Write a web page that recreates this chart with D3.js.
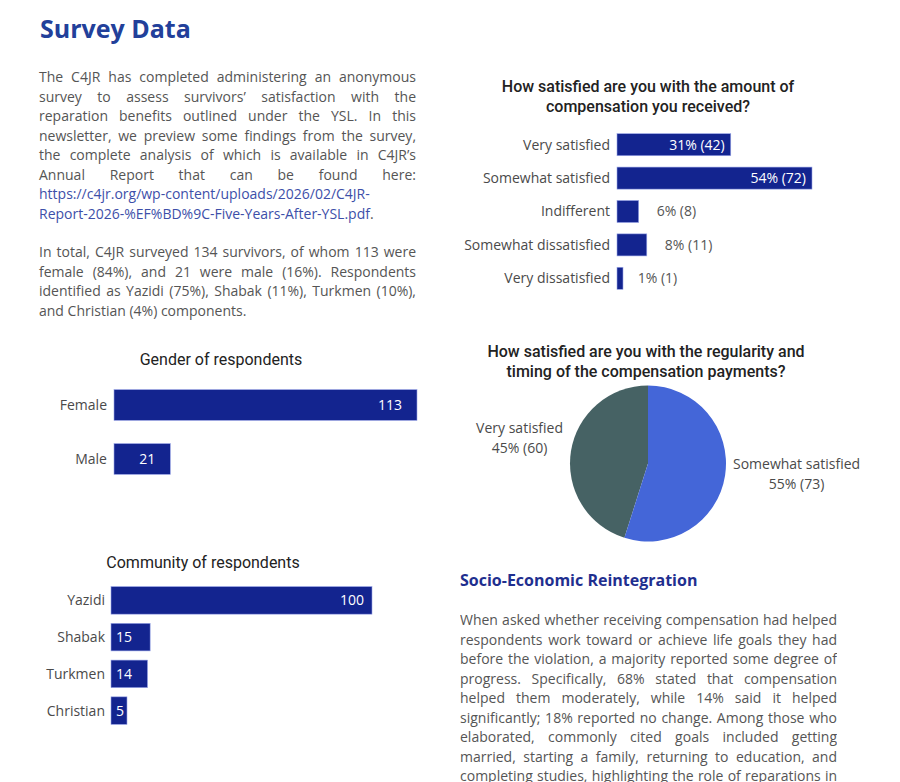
<!DOCTYPE html>
<html>
<head>
<meta charset="utf-8">
<script src="https://cdn.jsdelivr.net/npm/d3@7"></script>
<style>
  body { margin: 0; background: #fff; }
  #page { position: relative; width: 900px; height: 782px; overflow: hidden; background: #fff; }
  #page svg { position: absolute; left: 0; top: 0; }
  .para {
    position: absolute;
    width: 377px;
    font-family: "Open Sans", sans-serif;
    font-size: 14px;
    line-height: 19.5px;
    color: #555;
    text-align: justify;
    margin: 0;
  }
  .para a { color: #3d4fa9; text-decoration: none; }
</style>
</head>
<body>
<div id="page">
  <p class="para" style="left:39px; top:67px;">The C4JR has completed administering an anonymous survey to assess survivors’ satisfaction with the reparation benefits outlined under the YSL. In this newsletter, we preview some findings from the survey, the complete analysis of which is available in C4JR’s Annual Report that can be found here: <a href="#">https://c4jr.org/wp-content/uploads/2026/02/C4JR-<br>Report-2026-%EF%BD%9C-Five-Years-After-YSL.pdf</a>.</p>
  <p class="para" style="left:39px; top:242px;">In total, C4JR surveyed 134 survivors, of whom 113 were female (84%), and 21 were male (16%). Respondents identified as Yazidi (75%), Shabak (11%), Turkmen (10%), and Christian (4%) components.</p>
  <p class="para" style="left:460px; top:610px; height:172px; overflow:hidden; text-align-last: justify;">When asked whether receiving compensation had helped respondents work toward or achieve life goals they had before the violation, a majority reported some degree of progress. Specifically, 68% stated that compensation helped them moderately, while 14% said it helped significantly; 18% reported no change. Among those who elaborated, commonly cited goals included getting married, starting a family, returning to education, and completing studies, highlighting the role of reparations in</p>
</div>
<script>
// chart data
const genderLabels = ['Female', 'Male'];
const genderValues = [113, 21];

const communityLabels = ['Yazidi', 'Shabak', 'Turkmen', 'Christian'];
const communityValues = [100, 15, 14, 5];

const amountLabels = ['Very satisfied', 'Somewhat satisfied', 'Indifferent', 'Somewhat dissatisfied', 'Very dissatisfied'];
const amountValues = [42, 72, 8, 11, 1];
const amountPercents = ['31%', '54%', '6%', '8%', '1%'];

const timingLabels = ['Very satisfied', 'Somewhat satisfied'];
const timingValues = [60, 73];
const timingPercents = ['45%', '55%'];

const barColor = '#13248f';
const labelFont = '"Open Sans", sans-serif';
const titleFont = 'Roboto, "Liberation Sans", sans-serif';

const svg = d3.select('#page').append('svg')
  .attr('width', 900)
  .attr('height', 782);

// page headings
svg.append('text')
  .attr('x', 40).attr('y', 38)
  .style('font-family', labelFont)
  .style('font-size', '25px')
  .style('font-weight', 700)
  .style('fill', '#22409a')
  .text('Survey Data');

svg.append('text')
  .attr('x', 460).attr('y', 586)
  .style('font-family', labelFont)
  .style('font-size', '16px')
  .style('font-weight', 700)
  .style('fill', '#1f2f8f')
  .text('Socio-Economic Reintegration');

// chart title, one or more lines centred on cx
function drawTitle(lines, cx, y, weight) {
  const t = svg.append('text')
    .attr('text-anchor', 'middle')
    .style('font-family', titleFont)
    .style('font-size', '16px')
    .style('font-weight', weight)
    .style('fill', '#222');
  lines.forEach((line, i) => {
    t.append('tspan').attr('x', cx).attr('y', y + i * 20).text(line);
  });
}

// horizontal bar chart; cfg holds the geometry and the value-label rule
function drawBars(cfg) {
  const x = d3.scaleLinear()
    .domain([0, d3.max(cfg.values)])
    .range([cfg.x0, cfg.x1]);
  const y = d3.scaleBand()
    .domain(cfg.labels)
    .range([cfg.y0, cfg.y1])
    .paddingInner(cfg.pad)
    .paddingOuter(cfg.pad / 2);

  const data = cfg.labels.map((name, i) => ({ name, value: cfg.values[i], text: cfg.text(i) }));
  const g = svg.append('g');

  g.selectAll('rect')
    .data(data)
    .enter()
    .append('rect')
    .attr('x', x(0))
    .attr('y', d => y(d.name))
    .attr('width', d => Math.max(x(d.value) - x(0), cfg.minWidth || 0))
    .attr('height', y.bandwidth())
    .style('fill', barColor)
    .style('stroke', '#9aa6e8')
    .style('stroke-width', 0.6);

  // category labels on the left
  g.selectAll('.cat')
    .data(data)
    .enter()
    .append('text')
    .attr('class', 'cat')
    .attr('x', cfg.labelX)
    .attr('y', d => y(d.name) + y.bandwidth() / 2)
    .attr('dy', '0.35em')
    .attr('text-anchor', 'end')
    .style('font-family', labelFont)
    .style('font-size', '14px')
    .style('fill', '#4a4a4a')
    .text(d => d.name);

  // value labels
  g.selectAll('.val')
    .data(data)
    .enter()
    .append('text')
    .attr('class', 'val')
    .attr('y', d => y(d.name) + y.bandwidth() / 2)
    .attr('dy', '0.35em')
    .style('font-family', labelFont)
    .style('font-size', '14px')
    .each(function (d) {
      const w = x(d.value) - x(0);
      const el = d3.select(this).text(d.text);
      if (w > cfg.insideMin) {
        el.attr('x', x(d.value) - cfg.endPad).attr('text-anchor', 'end').style('fill', '#fff');
      } else if (cfg.outside) {
        el.attr('x', x(d.value) + cfg.outside).attr('text-anchor', 'start').style('fill', '#555');
      } else {
        el.attr('x', x(0) + 5).attr('text-anchor', 'start').style('fill', '#fff');
      }
    });
}

// Gender of respondents
drawTitle(['Gender of respondents'], 221, 365, 400);
drawBars({
  labels: genderLabels, values: genderValues,
  text: i => String(genderValues[i]),
  x0: 114, x1: 417, y0: 378, y1: 486, pad: 0.43,
  labelX: 107, insideMin: 20, endPad: 15
});

// Community of respondents
drawTitle(['Community of respondents'], 203, 568, 400);
drawBars({
  labels: communityLabels, values: communityValues,
  text: i => String(communityValues[i]),
  x0: 111, x1: 372, y0: 582, y1: 729, pad: 0.25, minWidth: 16,
  labelX: 105, insideMin: 60, endPad: 8
});

// How satisfied ... amount of compensation
drawTitle(['How satisfied are you with the amount of', 'compensation you received?'], 648, 92, 500);
drawBars({
  labels: amountLabels, values: amountValues,
  text: i => `${amountPercents[i]} (${amountValues[i]})`,
  x0: 617, x1: 812, y0: 128, y1: 295, pad: 0.34, minWidth: 6,
  labelX: 610, insideMin: 60, endPad: 6, outside: 18
});

// How satisfied ... regularity and timing (pie)
drawTitle(['How satisfied are you with the regularity and', 'timing of the compensation payments?'], 646, 357, 500);

const pieColor = d3.scaleOrdinal()
  .domain(timingLabels)
  .range(['#466264', '#4466d8']);
const radius = 78;
const pieData = d3.pie()
  .value(d => d.value)
  .sort((a, b) => b.value - a.value)(timingLabels.map((name, i) => ({ name, value: timingValues[i], pct: timingPercents[i] })));
const arc = d3.arc().innerRadius(0).outerRadius(radius);
const labelArc = d3.arc().innerRadius(radius + 8).outerRadius(radius + 8);

const pieG = svg.append('g').attr('transform', 'translate(648,463.5)');
pieG.selectAll('path')
  .data(pieData)
  .enter()
  .append('path')
  .attr('d', arc)
  .style('fill', d => pieColor(d.data.name));

pieG.selectAll('.plabel')
  .data(pieData)
  .enter()
  .append('text')
  .attr('class', 'plabel')
  .attr('text-anchor', 'middle')
  .style('font-family', labelFont)
  .style('font-size', '14px')
  .style('fill', '#4a4a4a')
  .each(function (d) {
    const [px, py] = labelArc.centroid(d);
    const t = d3.select(this);
    const l1 = t.append('tspan').text(d.data.name);
    const l2 = t.append('tspan').text(`${d.data.pct} (${d.data.value})`);
    const w = Math.max(l1.node().getComputedTextLength(), l2.node().getComputedTextLength());
    const cx = px < 0 ? px - w / 2 : px + w / 2;
    const top = py - 10 + (px < 0 ? -12 : -3);
    l1.attr('x', cx).attr('y', top + 5);
    l2.attr('x', cx).attr('y', top + 25);
  });
</script>
</body>
</html>
